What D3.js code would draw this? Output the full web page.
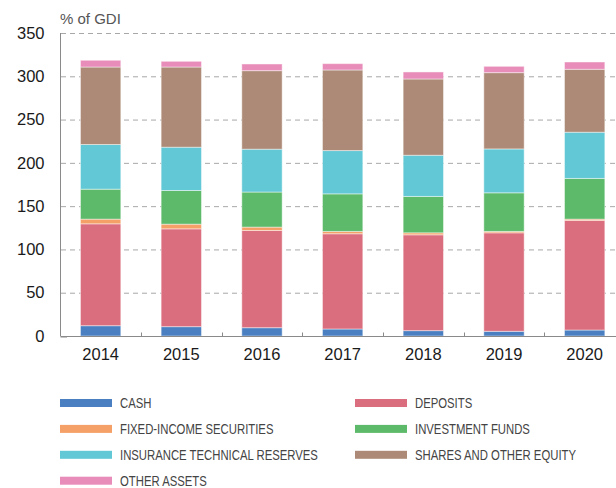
<!DOCTYPE html>
<html>
<head>
<meta charset="utf-8">
<style>
html, body {
  margin: 0px;
  padding: 0px;
  background: #fff;
}
svg text {
  font-family: "Liberation Sans", Arial, sans-serif;
}
.grid line {
  stroke: #a8a8a8;
  stroke-dasharray: 5,4;
}
</style>
</head>
<body>
<div id="chart"></div>
<script src="https://cdn.jsdelivr.net/npm/d3@7/dist/d3.min.js"></script>
<script>
  // values, % of GDI
  var years = ["2014", "2015", "2016", "2017", "2018", "2019", "2020"];
  var cash = [11.9, 10.8, 9.6, 8.1, 6.2, 5.4, 6.9];
  var deposits = [117.7, 113.0, 112.3, 110.0, 110.7, 113.8, 126.6];
  var fixedIncome = [5.4, 5.4, 3.9, 2.7, 2.3, 1.6, 1.5];
  var investmentFunds = [34.6, 38.9, 40.5, 43.4, 42.0, 44.6, 47.0];
  var insurance = [51.6, 50.0, 49.5, 50.0, 47.6, 50.7, 53.4];
  var shares = [89.5, 92.6, 90.7, 93.1, 88.1, 88.1, 72.7];
  var otherAssets = [7.8, 6.6, 7.7, 7.3, 8.1, 7.3, 8.4];
  var yTicks = [0, 50, 100, 150, 200, 250, 300, 350];

  var seriesNames = ["CASH", "DEPOSITS", "FIXED-INCOME SECURITIES", "INVESTMENT FUNDS",
    "INSURANCE TECHNICAL RESERVES", "SHARES AND OTHER EQUITY", "OTHER ASSETS"];
  var seriesValues = [cash, deposits, fixedIncome, investmentFunds, insurance, shares, otherAssets];
  var colors = ["#4a7fc1", "#db6e7e", "#f5a066", "#5dba6a", "#62c8d5", "#ad8a77", "#e88cb9"];

  var W = 616, H = 488;
  var svg = d3.select("#chart").append("svg")
    .attr("width", W)
    .attr("height", H);

  var x = d3.scaleBand().domain(years).range([60.3, 625]).paddingInner(0.5).paddingOuter(0.25);
  var y = d3.scaleLinear().domain([0, 350]).range([336, 33]);

  // gridlines
  svg.append("g")
    .attr("class", "grid")
    .selectAll("line")
    .data(yTicks.filter(function (d) { return d > 0; }))
    .enter()
    .append("line")
    .attr("x1", 61).attr("x2", W)
    .attr("y1", function (d) { return y(d) + 0.5; })
    .attr("y2", function (d) { return y(d) + 0.5; });

  // build table for d3.stack
  var table = years.map(function (yr, i) {
    var row = { year: yr };
    seriesNames.forEach(function (n, k) { row[n] = seriesValues[k][i]; });
    return row;
  });
  var stacked = d3.stack().keys(seriesNames)(table);

  svg.append("g")
    .selectAll("g")
    .data(stacked)
    .enter()
    .append("g")
    .attr("fill", function (d) { return colors[seriesNames.indexOf(d.key)]; })
    .selectAll("rect")
    .data(function (d) { return d; })
    .enter()
    .append("rect")
    .attr("x", function (d) { return x(d.data.year); })
    .attr("width", x.bandwidth())
    .attr("y", function (d) { return y(d[1]); })
    .attr("height", function (d) { return y(d[0]) - y(d[1]); })
    .attr("stroke", "#fff")
    .attr("stroke-opacity", 0.45)
    .attr("stroke-width", 1);

  // y axis
  var yAxis = svg.append("g")
    .attr("transform", "translate(60.5,0)")
    .call(d3.axisLeft(y).tickValues(yTicks).tickSize(0).tickPadding(16));
  yAxis.select(".domain").attr("stroke", "#8a8a8a").attr("d", "M0," + y(350) + "V" + y(0));
  yAxis.selectAll("text")
    .attr("font-size", "16.5px")
    .attr("font-family", "Liberation Sans, Arial, sans-serif")
    .attr("fill", "#1a1a1a");

  // x axis, ticks between bars pointing up
  var xAxis = svg.append("g")
    .attr("transform", "translate(0,336.5)")
    .call(d3.axisBottom(x).tickSize(0).tickPadding(12));
  xAxis.select(".domain").attr("stroke", "#8a8a8a").attr("d", "M60.5,0H" + W);
  xAxis.selectAll("text")
    .attr("font-size", "16.5px")
    .attr("font-family", "Liberation Sans, Arial, sans-serif")
    .attr("fill", "#1a1a1a");
  var step = x.step();
  xAxis.selectAll(".sep")
    .data(years.slice(1))
    .enter()
    .append("line")
    .attr("stroke", "#8a8a8a")
    .attr("x1", function (d) { return Math.round(x(d) - (step - x.bandwidth()) / 2) + 0.5; })
    .attr("x2", function (d) { return Math.round(x(d) - (step - x.bandwidth()) / 2) + 0.5; })
    .attr("y1", -4).attr("y2", 0);
  xAxis.append("line")
    .attr("stroke", "#8a8a8a")
    .attr("x1", 60.5).attr("x2", 67).attr("y1", 0.5).attr("y2", 0.5);

  // unit label
  svg.append("text")
    .attr("x", 60)
    .attr("y", 24.3)
    .attr("font-size", "15px")
    .attr("fill", "#555")
    .text("% of GDI");

  // legend, two columns
  var legend = svg.append("g")
    .selectAll("g")
    .data(seriesNames)
    .enter()
    .append("g")
    .attr("transform", function (d, i) {
      return "translate(" + (i % 2 === 0 ? 60 : 355) + "," + (403 + Math.floor(i / 2) * 25.9) + ")";
    });
  legend.append("rect")
    .attr("x", 0).attr("y", -4)
    .attr("width", 52).attr("height", 8)
    .attr("fill", function (d, i) { return colors[i]; });
  legend.append("text")
    .attr("transform", "translate(60,5.3) scale(0.755,1)")
    .attr("font-size", "15px")
    .attr("fill", "#444")
    .text(function (d) { return d; });
</script>
</body>
</html>
